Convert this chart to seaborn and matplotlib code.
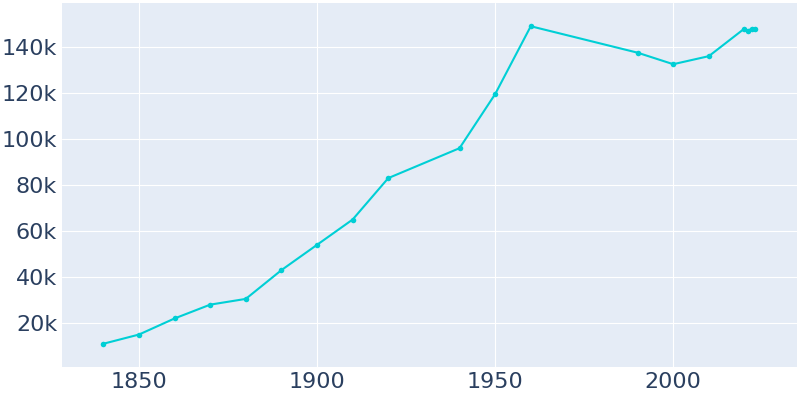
import matplotlib
matplotlib.use("Agg")
import matplotlib.pyplot as plt
import seaborn as sns
import pandas as pd
from matplotlib.ticker import FuncFormatter

# population by census year
years = [1840, 1850, 1860, 1870, 1880, 1890, 1900, 1910, 1920, 1940, 1950,
         1960, 1990, 2000, 2010, 2020, 2021, 2022, 2023]
population = [11000, 15000, 22000, 28000, 30500, 43000, 54000, 65000, 83000,
              96000, 119500, 149000, 137500, 132500, 136000, 148000, 147000,
              148000, 147800]

df = pd.DataFrame({"year": years, "population": population})

sns.set_style("darkgrid", {"axes.facecolor": "#e5ecf6", "grid.color": "white"})
plt.rcParams["font.family"] = ["DejaVu Sans"]

fig = plt.figure(figsize=(8, 4), dpi=100)
ax = fig.add_axes([0.0775, 0.0825, 0.919, 0.91])
sns.lineplot(data=df, x="year", y="population", ax=ax, color="#00cfd5",
             marker="o", markersize=4, markeredgewidth=0, linewidth=1.5)

ax.set_xlim(1828.4, 2034.8)
ax.set_ylim(900, 159100)
ax.set_xticks([1850, 1900, 1950, 2000])
ax.set_yticks([20000, 40000, 60000, 80000, 100000, 120000, 140000])
ax.yaxis.set_major_formatter(FuncFormatter(lambda v, p: f"{int(v/1000)}k"))
ax.set_xlabel("")
ax.set_ylabel("")
ax.tick_params(labelsize=16, colors="#2a3f5f", length=0)
for s in ax.spines.values():
    s.set_visible(False)

fig.savefig("out.png")
